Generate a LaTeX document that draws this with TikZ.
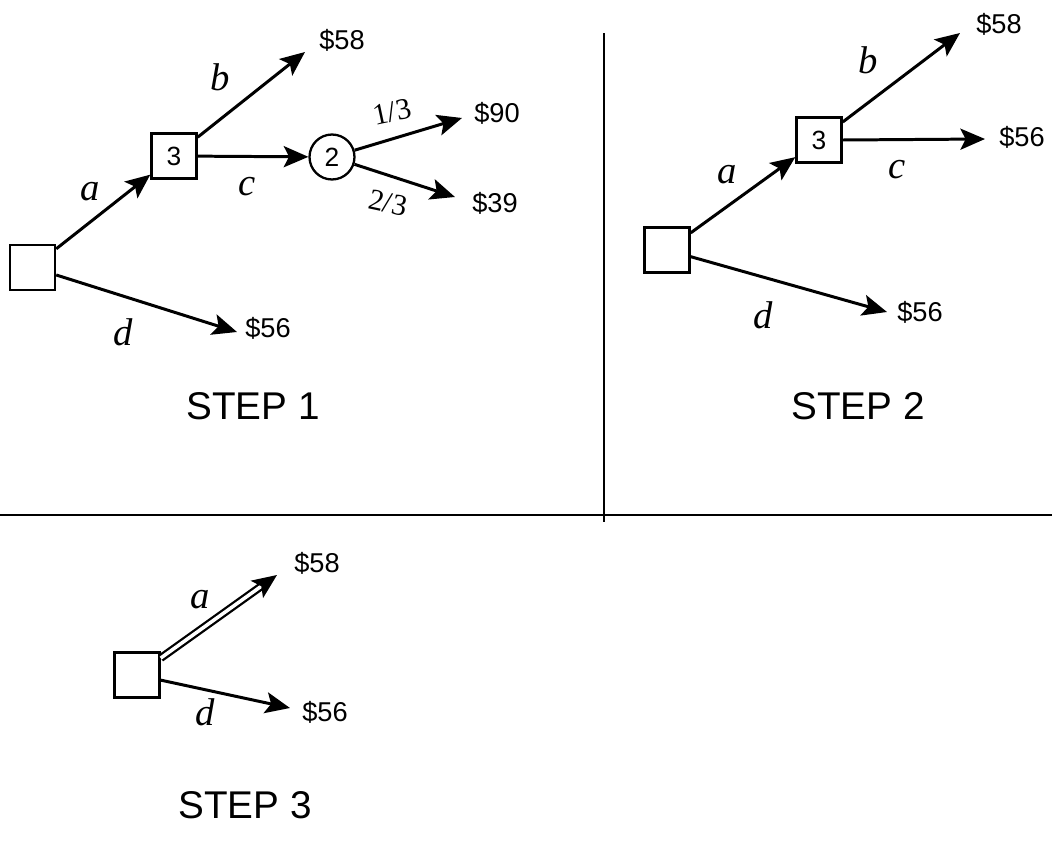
\documentclass[tikz,border=0pt]{standalone}
\usepackage{fontspec}
\setmainfont{Liberation Sans}
\newfontfamily\lblfont{Liberation Serif}
\usepackage{tikz}
\usetikzlibrary{positioning, arrows.meta}

\begin{document}
\begin{tikzpicture}[x=0.02cm, y=-0.02cm,
    dbox/.style={draw, line width=1.4pt, minimum size=0.9cm, inner sep=0pt, font=\fontsize{15}{16}\selectfont},
    chance/.style={draw, circle, line width=1.3pt, minimum size=0.9cm, inner sep=0pt, font=\fontsize{15}{16}\selectfont},
    pay/.style={inner sep=1pt, font=\fontsize{15.5}{17}\selectfont},
    act/.style={inner sep=0pt, font=\lblfont\itshape\fontsize{22}{23}\selectfont},
    prob/.style={inner sep=0pt, font=\lblfont\fontsize{17}{18}\selectfont},
    steplbl/.style={font=\fontsize{22}{24}\selectfont},
    branch/.style={line width=1.7pt, -{Stealth[length=14pt, width=12pt, inset=3pt]}}]
  \useasboundingbox (0,0) rectangle (1052,852);

  % dividers
  \draw[line width=0.6pt] (604,33) -- (604,522);
  \draw[line width=0.6pt] (0,515) -- (1052,515);

  % step 1
  \node[dbox] (root1) at (32.5,267.5) {};
  \node[dbox] (dec1) at (174,156) {3};
  \node[chance] (ch1) at (332,157) {2};
  \coordinate (tipb1) at (305,52);
  \coordinate (tiphi1) at (462,118);
  \coordinate (tiplo1) at (455,197);
  \coordinate (tipd1) at (237,332);
  \node[pay] (payb1) at (342,40) {\$58};
  \node[pay] (payhi1) at (497,113) {\$90};
  \node[pay] (paylo1) at (495,203) {\$39};
  \node[pay] (payd1) at (268,328) {\$56};
  \draw[branch] (root1) -- (dec1);
  \draw[branch] (dec1) -- (tipb1);
  \draw[branch] (dec1) -- (ch1);
  \draw[branch] (ch1) -- (tiphi1);
  \draw[branch] (ch1) -- (tiplo1);
  \draw[branch] (root1) -- (tipd1);
  \node[act] (la1) at (90,192) {a};
  \node[act] (lb1) at (220,77) {b};
  \node[act] (lc1) at (247,187) {c};
  \node[act] (ld1) at (123,332) {d};
  \node[prob, rotate=12] (lhi1) at (392,112) {1/3};
  \node[prob, rotate=-12] (llo1) at (388,203) {2/3};
  \node[steplbl] (step1) at (253,406) {STEP 1};

  % step 2
  \node[dbox] (root2) at (667,250) {};
  \node[dbox] (dec2) at (819,140) {3};
  \coordinate (tipb2) at (960,33);
  \coordinate (tipc2) at (985,139);
  \coordinate (tipd2) at (887,312);
  \node[pay] (payb2) at (999,24) {\$58};
  \node[pay] (payc2) at (1022,137) {\$56};
  \node[pay] (payd2) at (920,312) {\$56};
  \draw[branch] (root2) -- (dec2);
  \draw[branch] (dec2) -- (tipb2);
  \draw[branch] (dec2.east) -- (tipc2);
  \draw[branch] (root2) -- (tipd2);
  \node[act] (la2) at (727,175) {a};
  \node[act] (lb2) at (868,60) {b};
  \node[act] (lc2) at (897,170) {c};
  \node[act] (ld2) at (763,315) {d};
  \node[steplbl] (step2) at (858,406) {STEP 2};

  % step 3
  \node[dbox] (root3) at (137,675) {};
  \coordinate (tipa3) at (277,575);
  \coordinate (tipd3) at (290,708);
  \node[pay] (paya3) at (317,563) {\$58};
  \node[pay] (payd3) at (325,712) {\$56};
  \draw[line width=1.3pt, double, double distance=2pt,
    -{Stealth[length=14pt, width=12pt, inset=3pt]}] (root3) -- (tipa3);
  \draw[branch] (root3) -- (tipd3);
  \node[act] (la3) at (200,600) {a};
  \node[act] (ld3) at (205,712) {d};
  \node[steplbl] (step3) at (245,805) {STEP 3};
\end{tikzpicture}
\end{document}
